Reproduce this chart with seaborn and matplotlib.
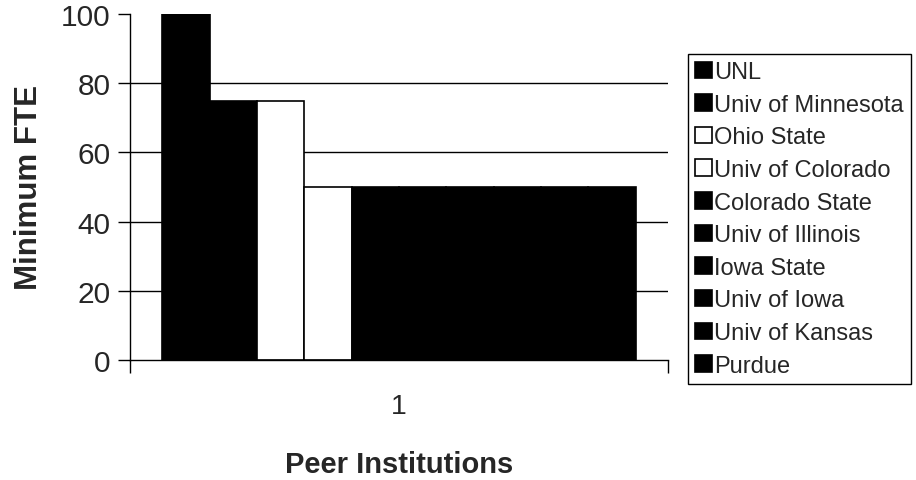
import seaborn as sns
import matplotlib.pyplot as plt
import pandas as pd

# values
institutions = ['UNL', 'Univ of Minnesota', 'Ohio State', 'Univ of Colorado',
                'Colorado State', 'Univ of Illinois', 'Iowa State', 'Univ of Iowa',
                'Univ of Kansas', 'Purdue']
min_fte = [100, 75, 75, 50, 50, 50, 50, 50, 50, 50]
bar_colors = ['black', 'black', 'white', 'white', 'black',
              'black', 'black', 'black', 'black', 'black']
group = ['1'] * len(institutions)
y_ticks = [0, 20, 40, 60, 80, 100]
grid_levels = [20, 40, 60, 80]

df = pd.DataFrame({'Group': group, 'Institution': institutions, 'FTE': min_fte})

sns.set_style("white")
plt.rcParams['font.family'] = ['Liberation Sans', 'DejaVu Sans']

fig = plt.figure(figsize=(9.16, 4.81), dpi=100)
ax = fig.add_axes([130 / 916, 1 - 361 / 481, 538 / 916, 346 / 481])

for lv in grid_levels:
    ax.axhline(lv, color='black', lw=1.0, zorder=0)

sns.barplot(data=df, x='Group', y='FTE', hue='Institution', hue_order=institutions,
            palette=dict(zip(institutions, bar_colors)), width=0.88,
            edgecolor='black', linewidth=1.2, saturation=1, ax=ax, zorder=2)

ax.set_xlim(-0.5, 0.5)
ax.set_ylim(0, 100)
ax.set_yticks(y_ticks)
ax.tick_params(axis='y', direction='out', length=9, width=1, color='black',
               labelsize=21.5, pad=5, left=True)
ax.set_xticks([0])
ax.set_xticklabels(['1'])
ax.tick_params(axis='x', which='major', length=0, labelsize=20.5, pad=24)
ax.set_xticks([-0.5, 0.5], minor=True)
ax.tick_params(axis='x', which='minor', direction='out', length=9, width=1,
               color='black', bottom=True)

for side in ['top', 'right']:
    ax.spines[side].set_visible(False)
for side in ['left', 'bottom']:
    ax.spines[side].set_color('black')
    ax.spines[side].set_linewidth(1.0)

ax.set_xlabel('Peer Institutions', fontsize=21, fontweight='bold', labelpad=22)
ax.set_ylabel('Minimum FTE', fontsize=22.5, fontweight='bold', labelpad=12)

handles, labels = ax.get_legend_handles_labels()
ax.legend(handles, labels, loc='upper left', bbox_to_anchor=(688 / 916, 1 - 55 / 481),
          bbox_transform=fig.transFigure, fontsize=17, frameon=True, fancybox=False,
          edgecolor='black', framealpha=1, borderpad=0.3, labelspacing=0.45,
          handlelength=0.7, handleheight=0.7, handletextpad=0.12,
          borderaxespad=0)
ax.get_legend().get_frame().set_linewidth(1.0)

plt.savefig('out.png', dpi=100, facecolor='white')
